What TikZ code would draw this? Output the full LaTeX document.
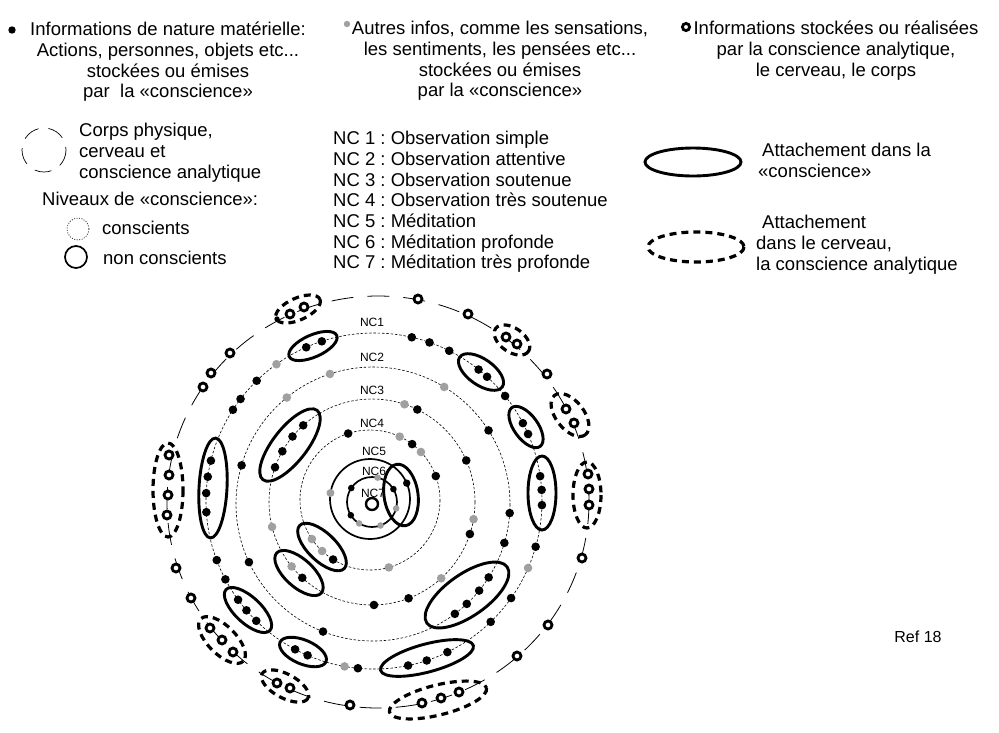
\documentclass[tikz,border=0pt]{standalone}
\usepackage{fontspec}
\setmainfont{Liberation Sans}
\frenchspacing
\definecolor{gristxt}{RGB}{160,160,160}

\tikzstyle{txt} = [inner sep=0pt, font=\fontsize{18.5}{20.7}\selectfont]
\tikzstyle{nclabel} = [inner sep=0pt, font=\fontsize{12}{14}\selectfont]
\tikzstyle{niveau} = [draw=black, line width=0.6pt, dash pattern=on 2.5pt off 1.8pt]
\tikzstyle{profond} = [draw=black, line width=1.7pt]
\tikzstyle{corps} = [draw=black, line width=0.8pt, dash pattern=on 22pt off 14pt]
\tikzstyle{attach} = [draw=black, line width=2.9pt]
\tikzstyle{attachcerveau} = [draw=black, line width=3.2pt, dash pattern=on 7pt off 5pt]
\tikzstyle{anneau} = [draw=black, fill=white, line width=2.8pt]

\begin{document}
\begin{tikzpicture}[x=1pt, y=-1pt]
        \useasboundingbox (0,0) rectangle (999,732);

        % legende en haut
        \fill (12,30) circle (3.7);
        \node [txt, anchor=north, align=center] (infomat) at (168,22)
          {Informations de nature matérielle:\\Actions, personnes, objets etc...\\stockées ou émises\\par\ \ la «conscience»};
        \fill [gristxt] (347,24) circle (3.2);
        \node [txt, anchor=north, align=center] (autres) at (500,21)
          {Autres infos, comme les sensations,\\les sentiments, les pensées etc...\\stockées ou émises\\par la «conscience»};
        \draw [anneau] (686,27) circle (3.6);
        \node [txt, anchor=north, align=center] (infoca) at (836,21)
          {Informations stockées ou réalisées\\par la conscience analytique,\\le cerveau, le corps};

        \draw [line width=0.7pt, dash pattern=on 17pt off 10pt] (44,150) circle (22);
        \node [txt, anchor=north west, align=left] (corpsleg) at (79,123)
          {Corps physique,\\cerveau et\\conscience analytique};
        \node [txt, anchor=base west] (niveaux) at (42,205.5) {Niveaux de «conscience»:};
        \draw [black!80, line width=0.8pt, dash pattern=on 1pt off 1.5pt] (78,229) circle (11);
        \node [txt, anchor=base west] (conscients) at (102,234.5) {conscients};
        \draw [profond] (76,257) circle (11);
        \node [txt, anchor=base west] (nonconscients) at (103,264.5) {non conscients};

        \node [txt, anchor=north west, align=left] (nclist) at (333,131)
          {NC 1 : Observation simple\\NC 2 : Observation attentive\\NC 3 : Observation soutenue\\NC 4 : Observation très soutenue\\NC 5 : Méditation\\NC 6 : Méditation profonde\\NC 7 : Méditation très profonde};

        \draw [attach] (693,162) ellipse (48 and 14);
        \node [txt, anchor=north west, align=left] (attachleg) at (758,143)
          {\hspace*{4pt}Attachement dans la\\«conscience»};
        \draw [attachcerveau] (696,247) ellipse (48 and 15);
        \node [txt, anchor=north west, align=left] (cerveauleg) at (756,215)
          {\hspace*{6pt}Attachement\\dans le cerveau,\\la conscience analytique};

        \node [font=\fontsize{16}{18}\selectfont, inner sep=0pt] (ref) at (918,637) {Ref 18};

        % niveaux de conscience
        \draw [niveau] (374,501) circle (168);
        \draw [niveau] (373,504) circle (137);
        \draw [niveau] (372,502) circle (103);
        \draw [niveau] (370,500) circle (70);
        \draw [profond] (370,499) circle (40);
        \draw [profond] (372,502) circle (25);
        \draw [line width=2.4pt] (372,504) circle (6);
        \node [nclabel] (nc1) at (372,322) {NC1};
        \node [nclabel] (nc2) at (372,357) {NC2};
        \node [nclabel] (nc3) at (372,390) {NC3};
        \node [nclabel] (nc4) at (372,423) {NC4};
        \node [nclabel] (nc5) at (374,451) {NC5};
        \node [nclabel] (nc6) at (374,471) {NC6};
        \node [nclabel] (nc7) at (373,493) {NC7};

        % corps, cerveau
        \draw [corps] (378,502) ellipse (211 and 206);

        % informations
        \foreach \a in {-113.8,-108.1,-134.3,-142.6,-147.1,-166.1,-171.7,-177.3,176.2,159.4,152.2,144,139.4,134.5,118,113.3,95.5,78.3,71.7,64.1,46,35.3,15.8,1.4,-3.8,-8.5,-23.5,-27.6,-38.7,-47.7,-51.5,-63.4,-70.7,-77}
          \fill [shift={(374,501)}] (\a:168) circle (4.3);
        \foreach \a in {-125.5,100.1,23.5}
          \fill [gristxt, shift={(374,501)}] (\a:168) circle (4.3);
        \foreach \a in {-163.6,154.9,111.4,53.3,46.8,39.2,32.4,16.5,3.8,-32.5}
          \fill [shift={(373,504)}] (\a:137) circle (4.3);
        \foreach \a in {-108.3,-129,-58.7}
          \fill [gristxt, shift={(373,504)}] (\a:137) circle (4.3);
        \foreach \a in {-160.3,-150.5,-140.5,-131.9,-63.9,-23.8,18.1,69.2,88.9,132.6}
          \fill [shift={(372,502)}] (\a:103) circle (4.3);
        \foreach \a in {-71.6,9.6,47.8,141.3,166}
          \fill [gristxt, shift={(372,502)}] (\a:103) circle (4.3);
        \foreach \a in {-108.2,-53,-20,121.8}
          \fill [shift={(370,500)}] (\a:70) circle (4.3);
        \foreach \a in {-64.9,-43.3,74.4,133.2,146.1}
          \fill [gristxt, shift={(370,500)}] (\a:70) circle (4.3);
        \fill [shift={(370,499)}] (-23.4:40) circle (3.7);
        \fill [gristxt, shift={(370,499)}] (-171.3:40) circle (4);
        \foreach \a in {-146,-31,148}
          \fill [shift={(372,502)}] (\a:25) circle (3.3);
        \foreach \a in {-77,15,70,121}
          \fill [gristxt, shift={(372,502)}] (\a:25) circle (3.3);

        % attachements
        \foreach \x/\y/\a/\b/\r in {313/346/26/11/24, 213/488/14/50/-3, 248/610/30/13/-43, 303/652/25/12/-23,
            427/658/48/14/15, 542/493/14/37/0, 526/427/24/12/-54, 481/372/26/13/-35, 467/595/49/21/35,
            290/445/44/17/52, 299/573/30/14/-42, 322/547/31/14/-44, 401/495/17/31/8}
          \draw [attach, rotate around={\r:(\x,\y)}] (\x,\y) ellipse [x radius=\a, y radius=\b];
        \foreach \x/\y/\a/\b/\r in {298/309/24/11/24, 512/340/20/12/-35, 570/415/25/14/-52, 587/495/14/33/0,
            438/700/50/15/14, 285/686/26/12/-28, 222/640/30/14/-45, 168/490/15/47/0}
          \draw [attachcerveau, rotate around={\r:(\x,\y)}] (\x,\y) ellipse [x radius=\a, y radius=\b];

        % informations de la conscience analytique
        \fill (277,319) circle (2.7);
        \foreach \x/\y in {418/299, 468/314, 506/337, 517/344, 547/374, 566/409, 574/423, 588/474, 589/489,
            589/505, 582/558, 548/625, 517/656, 422/703, 441/698, 459/692, 350/705, 277/683, 290/688,
            210/628, 222/640, 233/652, 191/598, 176/568, 169/455, 169/475, 168/495, 167/515, 203/387,
            211/373, 230/353, 290/314, 304/307}
          \draw [anneau] (\x,\y) circle (4);
\end{tikzpicture}
\end{document}
